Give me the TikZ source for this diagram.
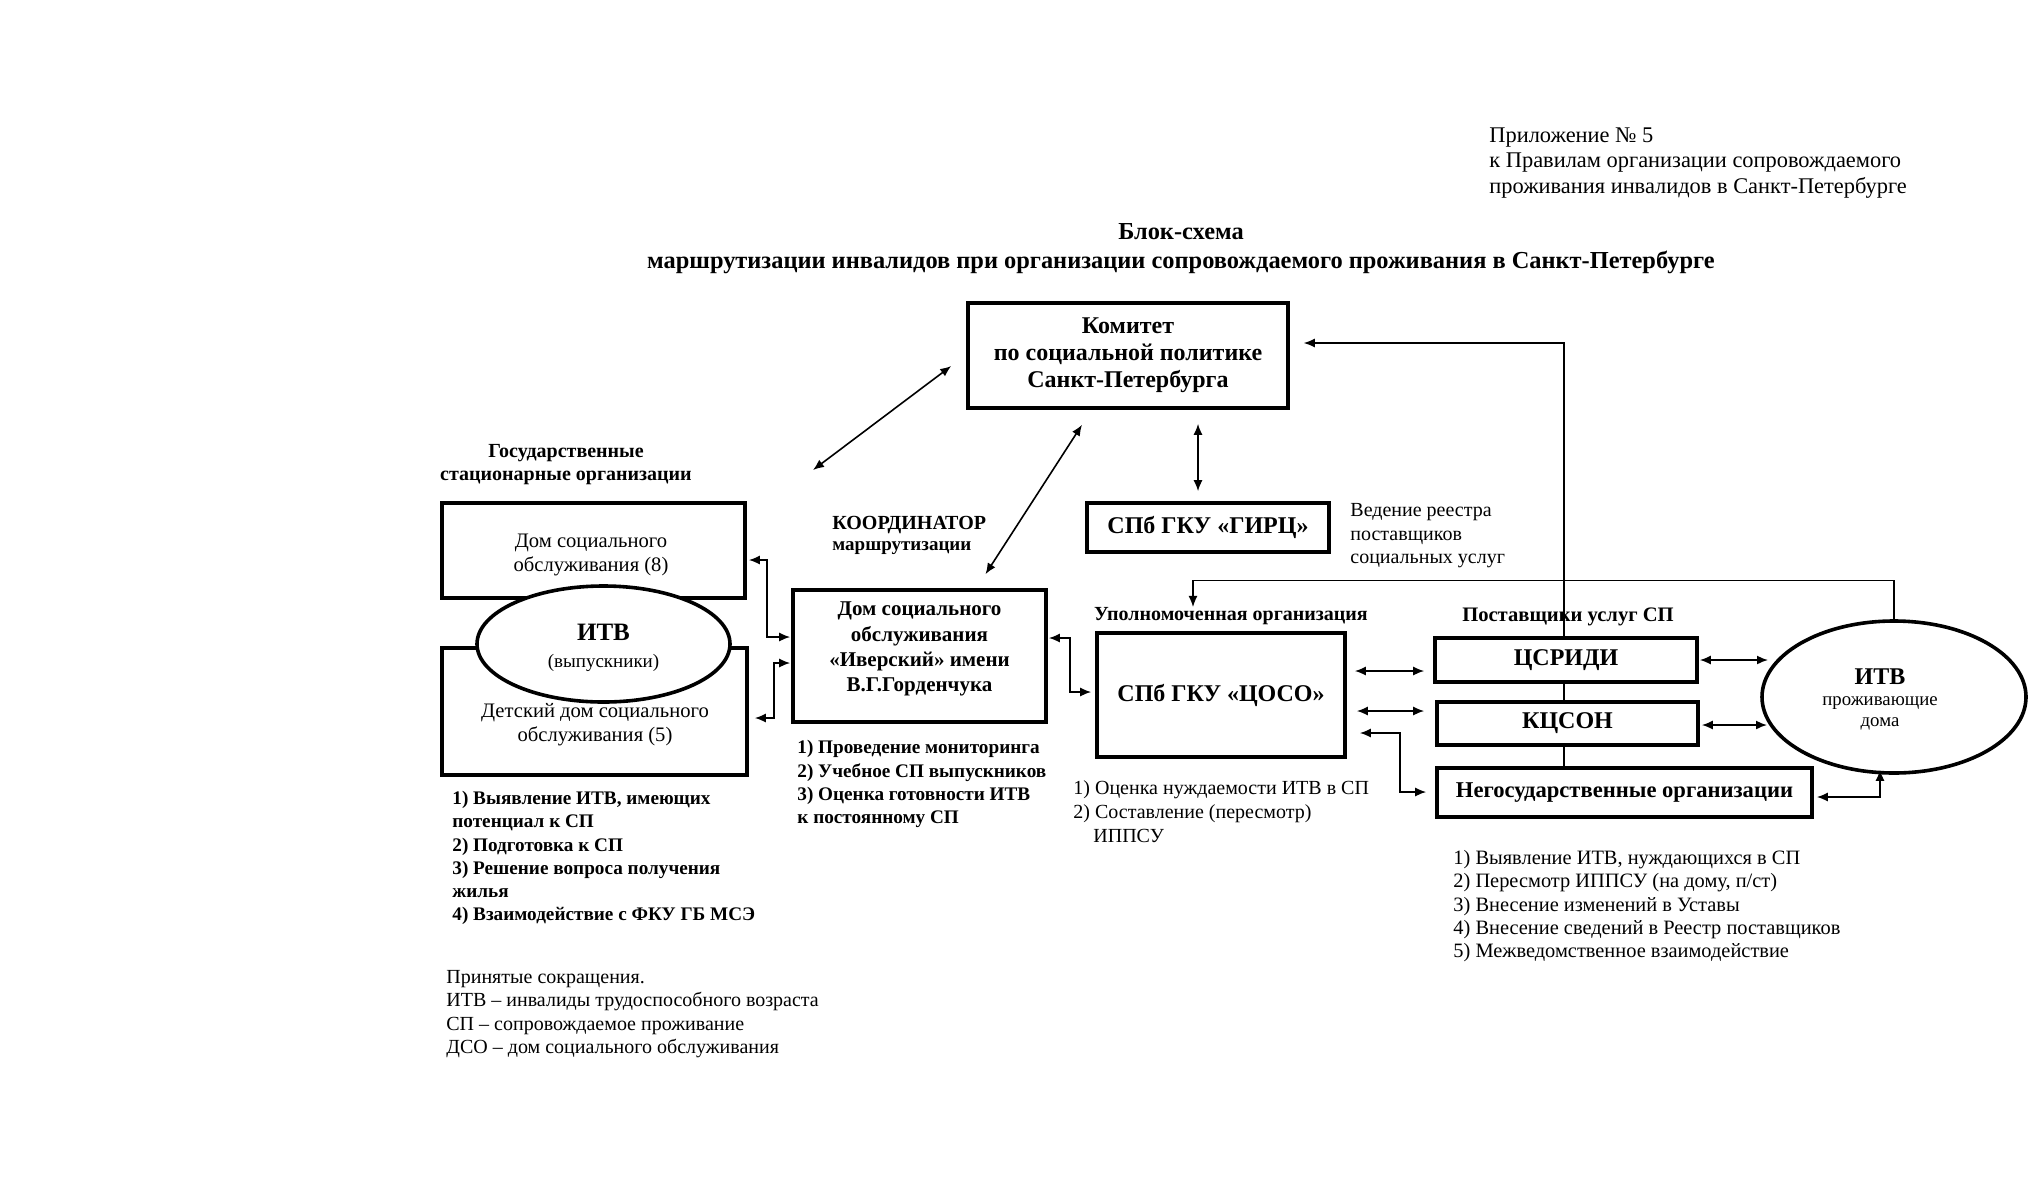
\documentclass[tikz,border=0pt]{standalone}
\usepackage{fontspec}
\setmainfont{Liberation Serif}
\usetikzlibrary{arrows.meta,calc,shapes.geometric,backgrounds}
\newcommand\myfs[2]{\fontsize{#1}{#2}\selectfont}
\begin{document}
\begin{tikzpicture}[x=0.5pt,y=-0.5pt,
  box/.style={draw, line width=1.8pt, fill=white, inner sep=0pt, align=center},
  oval/.style={ellipse, draw, line width=1.8pt, fill=white, inner sep=0pt},
  txt/.style={inner sep=0pt, align=left, anchor=north west},
  ctxt/.style={inner sep=0pt, align=center},
  arr/.style={line width=0.8pt, {Latex[length=5.5pt,width=4.5pt]}-{Latex[length=5.5pt,width=4.5pt]}},
  arrone/.style={line width=0.6pt, -{Latex[length=5.5pt,width=4.5pt]}},
]
\useasboundingbox (0,0) rectangle (2029,1200);
\begin{scope}[on background layer]
\fill[white] (0,0) rectangle (2029,1200);
\end{scope}

% header and title
\node[txt, font=\myfs{11.2pt}{12.75pt}] (hdr) at (1489,127) {Приложение № 5\\к Правилам организации сопровождаемого\\проживания инвалидов в Санкт-Петербурге};
\node[ctxt, font=\myfs{12.2pt}{14.5pt}\bfseries] (title) at (1181,249) {Блок-схема\\маршрутизации инвалидов при организации сопровождаемого проживания в Санкт-Петербурге};

% committee and GIRC
\node[box, minimum width=160pt, minimum height=52.5pt, font=\myfs{12pt}{13.5pt}\bfseries] (kom) at (1128,355.5) {Комитет\\по социальной политике\\Санкт-Петербурга};
\node[box, minimum width=121pt, minimum height=24.5pt, font=\myfs{12pt}{14pt}\bfseries] (girc) at (1208,527.5) {СПб ГКУ «ГИРЦ»};
\node[txt, font=\myfs{10pt}{11.75pt}] (reg) at (1350,503) {Ведение реестра\\поставщиков\\социальных услуг};

% left group
\node[ctxt, font=\myfs{10pt}{11.5pt}\bfseries] (gsolab) at (566,464.5) {Государственные\\стационарные организации};
\coordinate (gsoend) at (813,470);
\node[box, minimum width=151.5pt, minimum height=47.5pt] (b8) at (593.5,550.5) {};
\node[ctxt, font=\myfs{10.3pt}{12pt}] (b8t) at (591,555) {Дом социального\\обслуживания (8)};
\node[box, minimum width=152.5pt, minimum height=63.5pt] (det) at (594.5,711.5) {};
\node[ctxt, font=\myfs{10.3pt}{12pt}] (dett) at (595,725) {Детский дом социального\\обслуживания (5)};
\node[oval, minimum width=126.5pt, minimum height=58pt] (itv1) at (603.5,644) {};
\node[ctxt, font=\myfs{12.5pt}{14pt}\bfseries] (itv1a) at (603.5,632) {ИТВ};
\node[ctxt, font=\myfs{9.5pt}{11pt}] (itv1b) at (603.5,663) {(выпускники)};
\node[txt, font=\myfs{9.6pt}{11.6pt}\bfseries] (lst1) at (452,791) {1) Выявление ИТВ, имеющих\\потенциал к СП\\2) Подготовка к СП\\3) Решение вопроса получения\\жилья\\4) Взаимодействие с ФКУ ГБ МСЭ};

% coordinator
\node[anchor=west, inner sep=0pt, font=\myfs{10pt}{12pt}\bfseries] (coorda) at (832,525) {КООРДИНАТОР};
\node[anchor=west, inner sep=0pt, font=\myfs{9.5pt}{11pt}\bfseries] (coordb) at (832,548) {маршрутизации};
\node[box, minimum width=126.5pt, minimum height=66pt] (iv) at (919.5,656) {};
\node[ctxt, font=\myfs{10.5pt}{12.6pt}\bfseries] (ivt) at (919.5,649) {Дом социального\\обслуживания\\«Иверский» имени\\В.Г.Горденчука};
\node[txt, font=\myfs{9.6pt}{11.65pt}\bfseries] (lst2) at (797,740) {1) Проведение мониторинга\\2) Учебное СП выпускников\\3) Оценка готовности ИТВ\\к постоянному СП};

% authorised organisation
\node[ctxt, font=\myfs{10pt}{12pt}\bfseries] (upl) at (1231,616) {Уполномоченная организация};
\node[box, minimum width=124pt, minimum height=62pt, font=\myfs{12pt}{14pt}\bfseries] (coso) at (1221,695) {СПб ГКУ «ЦОСО»};
\node[txt, font=\myfs{10pt}{12pt}] (lst3) at (1073,780) {1) Оценка нуждаемости ИТВ в СП\\2) Составление (пересмотр)\\\hspace*{10pt}ИППСУ};

% providers
\node[ctxt, font=\myfs{10.3pt}{12pt}\bfseries] (post) at (1568,617) {Поставщики услуг СП};
\node[box, minimum width=131pt, minimum height=22pt, font=\myfs{12pt}{14pt}\bfseries] (csr) at (1566,660) {ЦСРИДИ};
\node[box, minimum width=130.5pt, minimum height=21.5pt, font=\myfs{12pt}{14pt}\bfseries] (kcs) at (1567.5,723.5) {КЦСОН};
\node[box, minimum width=187.5pt, minimum height=24.5pt, font=\myfs{11.3pt}{13pt}\bfseries] (neg) at (1624.5,792.5) {Негосударственные организации};
\node[oval, minimum width=132pt, minimum height=76pt] (itv2) at (1894,697) {};
\node[ctxt, font=\myfs{12pt}{14pt}\bfseries] (itv2a) at (1880,677) {ИТВ};
\node[ctxt, font=\myfs{9.4pt}{10.5pt}] (itv2b) at (1880,713) {проживающие\\дома};
\node[txt, font=\myfs{10.2pt}{11.65pt}] (lst4) at (1453,850) {1) Выявление ИТВ, нуждающихся в СП\\2) Пересмотр ИППСУ (на дому, п/ст)\\3) Внесение изменений в Уставы\\4) Внесение сведений в Реестр поставщиков\\5) Межведомственное взаимодействие};

% abbreviations
\node[txt, font=\myfs{10pt}{11.7pt}] (abbr) at (446,970) {Принятые сокращения.\\ИТВ – инвалиды трудоспособного возраста\\СП – сопровождаемое проживание\\ДСО – дом социального обслуживания};

% connectors
\draw[arr] ($(kom.west)+(-15,10.5)$) -- (gsoend);
\draw[arr] ($(kom.south)+(-46,15)$) -- ($(iv.north)+(66,-14)$);
\draw[arr] ($(kom.south)+(70,14)$) -- ($(girc.north)+(-10,-10)$);
\draw[arr] ($(b8.east)+(2,9.5)$) -- ++(18,0) |- ($(iv.west)+(-1,-19)$);
\draw[arr] ($(det.east)+(6,6.5)$) -- ++(19,0) |- ($(iv.west)+(-1,7)$);
\draw[arr] ($(iv.east)+(1,-18)$) -- ++(21,0) |- ($(coso.west)+(-4,-3)$);
\draw[arr] ($(coso.east)+(8,-24)$) -- ($(csr.west)+(-9,11)$);
\draw[arr] ($(coso.east)+(10,16)$) -- ($(kcs.west)+(-11,-12.5)$);
\draw[arr] ($(coso.east)+(13,38)$) -- ++(40,0) |- ($(neg.west)+(-9,-0.5)$);
\draw[arr] ($(csr.east)+(1,0)$) -- ($(itv2.center)+(-126,-37)$);
\draw[arr] ($(kcs.east)+(2,1.5)$) -- ($(itv2.center)+(-127,28)$);
\draw[arr] ($(itv2.south)+(-14,-5)$) |- ($(neg.east)+(3,4.5)$);
\draw[arrone] (itv2.north) -- ++(0,-39) -| ($(upl.north)+(-38,0)$);
\begin{scope}[on background layer]
\draw[arrone] ($(neg.north)+(-60.5,0)$) |- ($(kom.east)+(14,-12.5)$);
\end{scope}
\end{tikzpicture}
\end{document}
